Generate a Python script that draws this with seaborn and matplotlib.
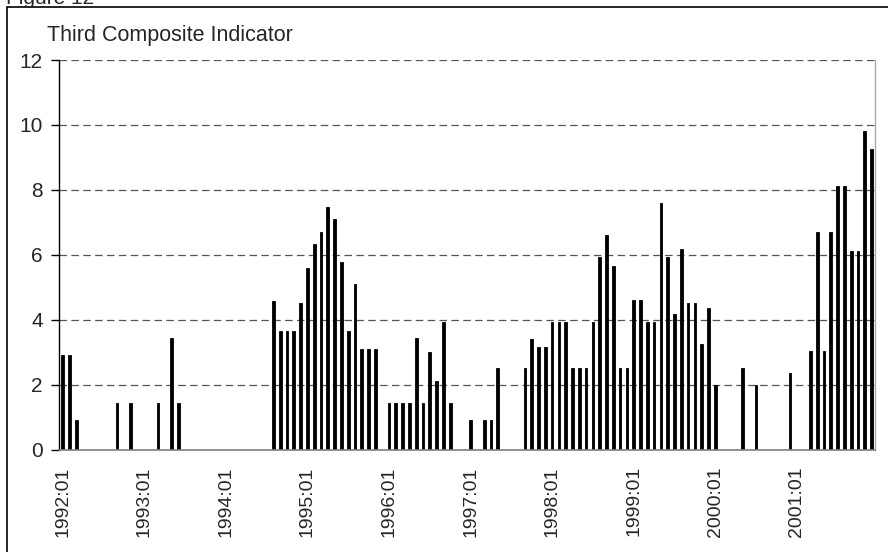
import numpy as np
import pandas as pd
import matplotlib
matplotlib.use('Agg')
import matplotlib.pyplot as plt
from matplotlib.patches import Rectangle
import seaborn as sns

# Monthly values of the indicator, one list per year (empty months = 0)
vals_1992 = [2.91, 2.91, 0.90, 0, 0, 0, 0, 0, 1.43, 0, 1.43, 0]
vals_1993 = [0, 0, 1.43, 0, 3.43, 1.43, 0, 0, 0, 0, 0, 0]
vals_1994 = [0, 0, 0, 0, 0, 0, 0, 4.57, 3.65, 3.65, 3.65, 4.51]
vals_1995 = [5.59, 6.33, 6.70, 7.47, 7.10, 5.77, 3.65, 5.10, 3.09, 3.09, 3.09, 0]
vals_1996 = [1.43, 1.43, 1.43, 1.43, 3.43, 1.43, 3.00, 2.11, 3.92, 1.43, 0, 0]
vals_1997 = [0.90, 0, 0.90, 0.90, 2.51, 0, 0, 0, 2.51, 3.40, 3.15, 3.15]
vals_1998 = [3.92, 3.92, 3.92, 2.51, 2.51, 2.51, 3.92, 5.93, 6.61, 5.65, 2.51, 2.51]
vals_1999 = [4.60, 4.60, 3.92, 3.92, 7.59, 5.93, 4.17, 6.17, 4.51, 4.51, 3.25, 4.36]
vals_2000 = [1.98, 0, 0, 0, 2.51, 0, 1.98, 0, 0, 0, 0, 2.35]
vals_2001 = [0, 0, 3.03, 6.70, 3.03, 6.70, 8.12, 8.12, 6.11, 6.11, 9.81, 9.26]

years = list(range(1992, 2002))
periods = [f"{y}:{m:02d}" for y in years for m in range(1, 13)]
values = (vals_1992 + vals_1993 + vals_1994 + vals_1995 + vals_1996 +
          vals_1997 + vals_1998 + vals_1999 + vals_2000 + vals_2001)

df = pd.DataFrame({'period': periods, 'value': values})

sns.set_style('white')
plt.rcParams['font.family'] = ['Liberation Sans', 'DejaVu Sans']

W, H = 888, 552
fig = plt.figure(figsize=(W / 100, H / 100), dpi=100)
ax = fig.add_axes([59.3 / W, 1 - 449.5 / H, (875 - 59.3) / W, (449.5 - 60) / H])

sns.barplot(data=df, x='period', y='value', order=periods, color='black',
            saturation=1, width=0.4, edgecolor='black', linewidth=0.6,
            ax=ax, zorder=3)

ax.set_xlim(-0.5, len(periods) - 0.5)
ax.set_ylim(0, 12)
ax.set_yticks(np.arange(0, 13, 2))
ax.set_yticklabels([str(v) for v in range(0, 13, 2)], fontsize=15)
ax.yaxis.grid(True, color='#555555', linestyle=(0, (6, 3.5)), linewidth=0.9)
ax.set_axisbelow(True)

# year labels centred on the January bar, tick marks at year boundaries
ax.set_xticks(range(0, len(periods), 12))
ax.set_xticklabels(periods[::12], rotation=90, fontsize=14)
ax.set_xticks(np.arange(-0.5, len(periods), 12), minor=True)
ax.tick_params(axis='x', which='major', length=0, pad=12)
ax.tick_params(axis='x', which='minor', length=6, width=1, color='#333333')
ax.tick_params(axis='y', which='major', length=6, width=1, color='black',
               pad=6, left=True)
ax.set_xlabel('')
ax.set_ylabel('')

ax.spines['left'].set_color('black')
ax.spines['left'].set_linewidth(1)
ax.spines['bottom'].set_color('#808080')
ax.spines['bottom'].set_linewidth(1.2)
ax.spines['bottom'].set_zorder(4)
ax.spines['right'].set_color('#aaaaaa')
ax.spines['right'].set_linewidth(1)
ax.spines['top'].set_visible(False)

# outer frame and texts
fig.add_artist(Rectangle((7 / W, -0.1), 1.0, 1.1 - 7 / H, transform=fig.transFigure,
                         fill=False, edgecolor='black', linewidth=1.2))
fig.text(6 / W, 1 - 4 / H, 'Figure 12', fontsize=15, va='baseline')
fig.text(47 / W, 1 - 41 / H, 'Third Composite Indicator', fontsize=15.5,
         va='baseline')

fig.savefig('out.png', dpi=100, facecolor='white')
